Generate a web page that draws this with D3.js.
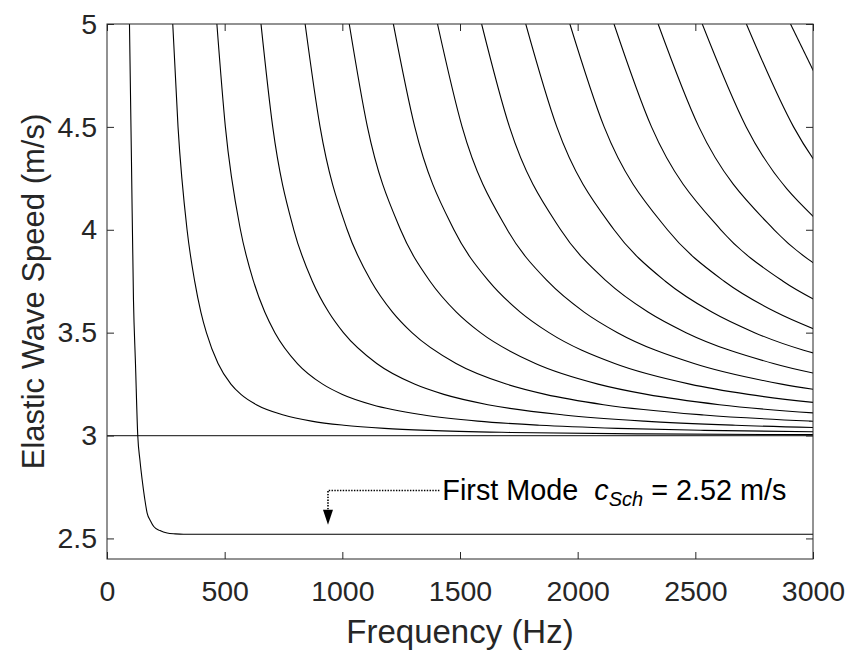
<!DOCTYPE html>
<html><head><meta charset="utf-8">
<script src="https://cdn.jsdelivr.net/npm/d3@7"></script>
<style>
body{margin:0;background:#fff}
svg{display:block}
text{font-family:"Liberation Sans",Arial,Helvetica,sans-serif}
</style>
</head><body>
<svg id="chart" width="852" height="656"></svg>
<script>
// ---------- data ----------
const freqTicks = [0, 500, 1000, 1500, 2000, 2500, 3000];
const speedTicks = [2.5, 3, 3.5, 4, 4.5, 5];

// fundamental (Scholte) mode
const fundFreq  = [95.5, 104, 112.5, 121, 130.7, 140, 149.4, 160, 170.6, 185, 198.6, 225, 255.5, 290, 324.7, 3000];
const fundSpeed = [5.0, 4.33, 3.66, 3.35, 3.0, 2.88, 2.785, 2.695, 2.623, 2.585, 2.558, 2.538, 2.526, 2.522, 2.52, 2.52];

// higher modes: frequency (Hz) at which each mode reaches these speeds (m/s)
const speedLevels = [5, 4.5, 4, 3.75, 3.6, 3.5, 3.35, 3.25, 3.2, 3.15, 3.1, 3.07, 3.05, 3.035, 3.025, 3.015, 3.008, 3.004];
const mode1  = [279.4, 301.8, 340.2, 372.5, 398.9, 422.4, 471.9, 526.5, 569.1, 634.6, 750.2, 869.0, 1006.5, 1178.8, 1368.0, 1716.5, 2284.5, 3140.4];
const mode2  = [466.9, 503.0, 567.0, 622.5, 670.4, 713.4, 809.0, 916.5, 1000.2, 1126.5, 1345.6, 1575.5, 1838.3, 2169.4, 2537.2, 3222.2];
const mode3  = [654.4, 704.2, 793.8, 872.5, 941.8, 1004.6, 1146.1, 1306.5, 1431.3, 1618.4, 1941.0, 2282.0, 2670.1, 3160.0];
const mode4  = [841.9, 905.4, 1020.6, 1122.5, 1213.2, 1295.8, 1483.2, 1696.5, 1862.4, 2110.3, 2536.4, 2988.5, 3501.9];
const mode5  = [1029.4, 1106.6, 1247.4, 1372.5, 1484.6, 1587.0, 1820.3, 2086.5, 2293.5, 2602.2, 3131.8];
const mode6  = [1216.9, 1307.8, 1474.2, 1622.5, 1756.0, 1878.2, 2157.4, 2476.5, 2724.6, 3094.1];
const mode7  = [1404.4, 1509.0, 1701.0, 1872.5, 2027.4, 2169.4, 2494.5, 2866.5, 3155.7];
const mode8  = [1591.9, 1710.2, 1927.8, 2122.5, 2298.8, 2460.6, 2831.6, 3256.5];
const mode9  = [1779.4, 1911.4, 2154.6, 2372.5, 2570.2, 2751.8, 3168.7];
const mode10 = [1966.9, 2112.6, 2381.4, 2622.5, 2841.6, 3043.0];
const mode11 = [2154.4, 2313.8, 2608.2, 2872.5, 3113.0];
const mode12 = [2341.9, 2515.0, 2835.0, 3122.5];
const mode13 = [2529.4, 2716.2, 3061.8];
const mode14 = [2716.9, 2917.4, 3288.6];
const mode15 = [2904.4, 3118.6];
const higherModes = [mode1, mode2, mode3, mode4, mode5, mode6, mode7, mode8, mode9, mode10, mode11, mode12, mode13, mode14, mode15];

const asymptoteSpeed = 3;
const schSpeedLabel = "2.52";

// ---------- layout ----------
const W = 852, H = 656;
const m = {left: 107, right: 39, top: 24, bottom: 97};
const iw = W - m.left - m.right, ih = H - m.top - m.bottom;
const FS = 28.5, XLFS = 33, YLFS = 31, AFS = 28.8;
const axisCol = "#262626";

const svg = d3.select("#chart");
svg.append("rect").attr("width", W).attr("height", H).attr("fill", "#fff");

const x = d3.scaleLinear().domain([0, 3000]).range([m.left, m.left + iw]);
const y = d3.scaleLinear().domain([2.4, 5]).range([m.top + ih, m.top]);

svg.append("defs").append("clipPath").attr("id", "plotclip")
  .append("rect").attr("x", m.left).attr("y", m.top).attr("width", iw).attr("height", ih);

const plot = svg.append("g").attr("clip-path", "url(#plotclip)");

const line = d3.line().x(d => x(d[0])).y(d => y(d[1])).curve(d3.curveMonotoneX);

// asymptote line at c = 3
plot.append("line")
  .attr("x1", x(0)).attr("x2", x(3000))
  .attr("y1", y(asymptoteSpeed)).attr("y2", y(asymptoteSpeed))
  .attr("stroke", "#3c3c3c").attr("stroke-width", 1.3);

// fundamental mode
plot.append("path")
  .datum(fundFreq.map((f, i) => [f, fundSpeed[i]]))
  .attr("d", line).attr("fill", "none").attr("stroke", "#000").attr("stroke-width", 1.1);

// higher modes
plot.selectAll("path.mode").data(higherModes).join("path")
  .attr("class", "mode")
  .attr("d", fr => line(fr.map((f, i) => [f, speedLevels[i]])))
  .attr("fill", "none").attr("stroke", "#000").attr("stroke-width", 1.1);

// ---------- axes ----------
const tickLen = 7;
const gx = svg.append("g").attr("transform", `translate(0,${m.top + ih})`)
  .call(d3.axisBottom(x).tickValues(freqTicks).tickFormat(d3.format("d"))
    .tickSizeInner(-tickLen).tickSizeOuter(0).tickPadding(22));
const gxt = svg.append("g").attr("transform", `translate(0,${m.top})`)
  .call(d3.axisTop(x).tickValues(freqTicks).tickFormat("")
    .tickSizeInner(-tickLen).tickSizeOuter(0));
const gy = svg.append("g").attr("transform", `translate(${m.left},0)`)
  .call(d3.axisLeft(y).tickValues(speedTicks).tickFormat(d3.format("~g"))
    .tickSizeInner(-tickLen).tickSizeOuter(0).tickPadding(10));
const gyr = svg.append("g").attr("transform", `translate(${m.left + iw},0)`)
  .call(d3.axisRight(y).tickValues(speedTicks).tickFormat("")
    .tickSizeInner(-tickLen).tickSizeOuter(0));

[gx, gxt, gy, gyr].forEach(g => {
  g.select(".domain").remove();
  g.selectAll(".tick line").attr("stroke", axisCol).attr("stroke-width", 1);
  g.selectAll(".tick text").attr("fill", axisCol).attr("font-size", FS)
    .attr("font-family", '"Liberation Sans",Arial,Helvetica,sans-serif');
});

// frame
svg.append("rect").attr("x", m.left).attr("y", m.top).attr("width", iw).attr("height", ih)
  .attr("fill", "none").attr("stroke", axisCol).attr("stroke-width", 1);

// axis labels
svg.append("text").attr("x", m.left + iw / 2).attr("y", 643)
  .attr("text-anchor", "middle").attr("font-size", XLFS).attr("fill", axisCol)
  .text("Frequency (Hz)");
svg.append("text")
  .attr("transform", `translate(44,${m.top + ih / 2}) rotate(-90)`)
  .attr("text-anchor", "middle").attr("font-size", YLFS).attr("fill", axisCol)
  .text("Elastic Wave Speed (m/s)");

// ---------- annotation ----------
const cornerF = 939, textF = 1425;
const lineC = 2.733, baseC = 2.639, tipC = 2.566, textC = 2.688;
svg.append("path")
  .attr("d", `M${x(textF) - 3},${y(lineC)} H${x(cornerF)} V${y(baseC)}`)
  .attr("fill", "none").attr("stroke", "#000").attr("stroke-width", 1.6)
  .attr("stroke-dasharray", "1.4,1.4");
svg.append("path")
  .attr("d", `M${x(cornerF) - 5},${y(baseC)} L${x(cornerF) + 5},${y(baseC)} L${x(cornerF)},${y(tipC)} Z`)
  .attr("fill", "#000");

const t = svg.append("text").attr("x", x(textF)).attr("y", y(textC))
  .attr("font-size", AFS).attr("fill", "#000").attr("xml:space", "preserve");
t.append("tspan").text("First Mode\u00a0\u00a0");
t.append("tspan").attr("font-style", "italic").text("c");
t.append("tspan").attr("font-style", "italic").attr("font-size", 20).attr("dy", 6).text("Sch");
t.append("tspan").attr("dy", -6).text("\u00a0= " + schSpeedLabel + " m/s");
</script>
</body></html>
